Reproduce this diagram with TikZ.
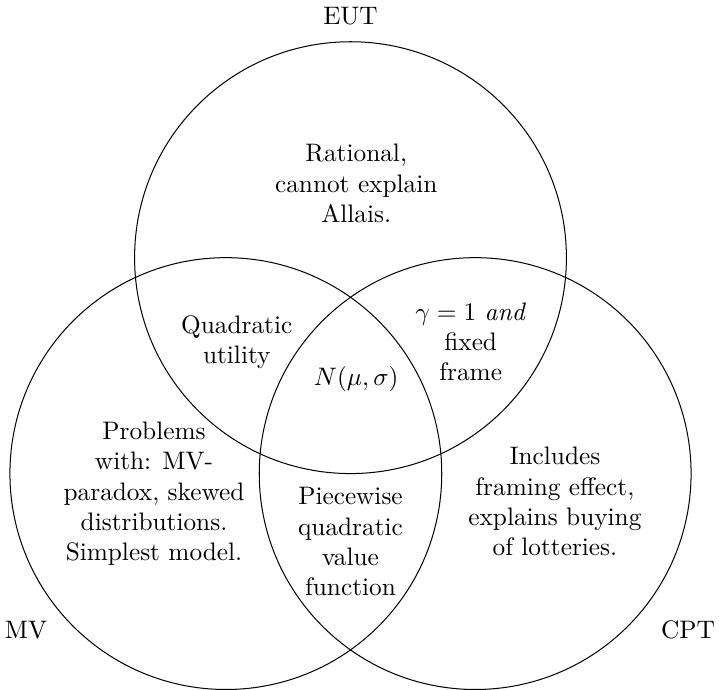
\documentclass[tikz,border=0pt]{standalone}
\usepackage{amsmath, amssymb}

\begin{document}
\begin{tikzpicture}[set/.style={circle,draw,inner sep=0pt,minimum size=6cm},
    txt/.style={align=center}]
\useasboundingbox (-4.87,-4.0) rectangle (5.12,5.58);
\node[set] (eut) at (90:2)  {};
\node[set] (mv)  at (210:2) {};
\node[set] (cpt) at (330:2) {};
% set names
\node (eutlab) at (0,5.36)      {EUT};
\node (mvlab)  at (-4.51,-3.17) {MV};
\node (cptlab) at (4.69,-3.17)  {CPT};
% regions
\node[txt] (rational) at (0.08,3.03)   {Rational,\\ cannot explain\\ Allais.};
\node[txt] (quad)     at (-1.58,0.83)  {Quadratic\\ utility};
\node[txt] (gamma)    at (1.67,0.83)   {$\gamma = 1$ \emph{and}\\ fixed\\ frame};
\node      (normal)   at (0.08,0.31)   {$N(\mu,\sigma)$};
\node[txt] (problems) at (-2.73,-1.28) {Problems\\ with: MV-\\ paradox, skewed\\ distributions.\\ Simplest model.};
\node[txt] (piece)    at (0,-1.95)     {Piecewise\\ quadratic\\ value\\ function};
\node[txt] (framing)  at (2.84,-1.39)  {Includes\\ framing effect,\\ explains buying\\ of lotteries.};
\end{tikzpicture}
\end{document}
